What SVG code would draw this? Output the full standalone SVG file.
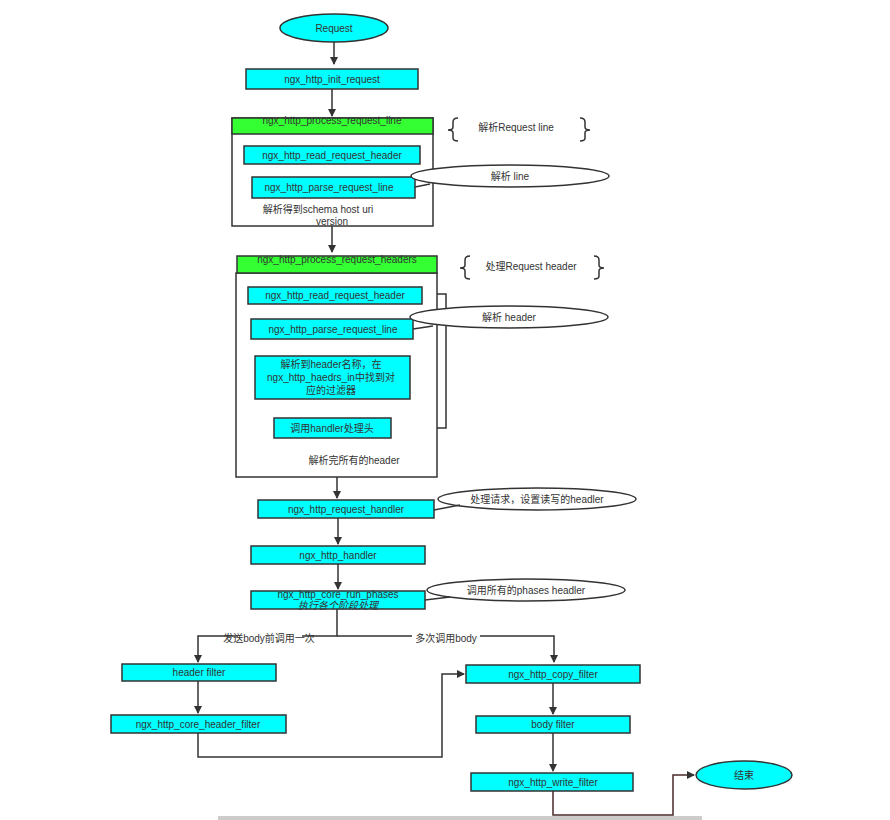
<svg xmlns="http://www.w3.org/2000/svg" width="890" height="820" viewBox="0 0 890 820">
<style>
text{font-family:"Liberation Sans","Noto Sans CJK SC",sans-serif;font-size:10px;fill:#333;text-anchor:middle}
.b{fill:#00ffff;stroke:#333;stroke-width:1.5}
.g{fill:#33ff33;stroke:#333;stroke-width:1.5}
.o{fill:#fff;stroke:#333;stroke-width:1.5}
.c{fill:none;stroke:#333;stroke-width:1.5}
</style>
<defs><marker id="a" markerWidth="8" markerHeight="8" refX="7" refY="4" orient="auto" markerUnits="userSpaceOnUse"><path d="M0,0L8,4L0,8z" fill="#333"/></marker></defs>
<rect x="0" y="0" width="890" height="820" fill="#fff"/>
<rect x="218" y="816" width="484" height="4" fill="#ccc"/>
<g id="connectors">
<path class="c" d="M334,42V64" marker-end="url(#a)"/>
<path class="c" d="M332,89V116" marker-end="url(#a)"/>
<path class="c" d="M332,164V176" marker-end="url(#a)"/>
<path class="c" d="M332,226V252" marker-end="url(#a)"/>
<path class="c" d="M334,304V317" marker-end="url(#a)"/>
<path class="c" d="M333,339V354" marker-end="url(#a)"/>
<path class="c" d="M332,399V416" marker-end="url(#a)"/>
<path class="c" d="M391,428H446V294H424" marker-end="url(#a)"/>
<path class="c" d="M337,477V498" marker-end="url(#a)"/>
<path class="c" d="M338,518L338,544" marker-end="url(#a)"/>
<path class="c" d="M338,564V589" marker-end="url(#a)"/>
<path class="c" d="M337,609V636H198V662" marker-end="url(#a)"/>
<path class="c" d="M337,636H554V662" marker-end="url(#a)"/>
<path class="c" d="M198,681V713" marker-end="url(#a)"/>
<path class="c" d="M198,733V757H442V674H464" marker-end="url(#a)"/>
<path class="c" d="M553,683V714" marker-end="url(#a)"/>
<path class="c" d="M553,733V771" marker-end="url(#a)"/>
<path d="M553,791V815H673V775H694" fill="none" stroke="#4a2a2a" stroke-width="1.5" marker-end="url(#a)"/>
<rect x="238" y="632" width="64" height="12" fill="#fff"/><text x="269" y="642">发送body前调用一次</text>
<rect x="412" y="632" width="68" height="12" fill="#fff"/><text x="446" y="642">多次调用body</text>
</g>
<g id="request"><ellipse class="b" cx="334" cy="28" rx="54" ry="14"/><text x="334" y="32">Request</text></g>
<g id="init"><rect class="b" x="246" y="69" width="172" height="20"/><text x="332" y="83">ngx_http_init_request</text></g>
<g id="prl">
<rect class="o" x="232" y="118" width="201" height="108"/>
<rect class="g" x="232" y="118" width="201" height="16"/><text x="332" y="124">ngx_http_process_request_line</text>
<text x="318" y="213">解析得到schema host uri</text><text x="332" y="225">version</text>
</g>
<g id="rrh1"><rect class="b" x="244" y="146" width="176" height="18"/><text x="332" y="159">ngx_http_read_request_header</text></g>
<g id="prl1"><rect class="b" x="252" y="177" width="163" height="21"/><text x="329" y="191">ngx_http_parse_request_line</text></g>
<g id="note1"><ellipse class="o" cx="510" cy="176" rx="99" ry="11"/><path class="c" d="M415,187L430,184"/><text x="510" y="180">解析 line</text></g>
<g id="brace1"><path class="c" d="M458,118q-5,0-5,4v5q0,3-5,3q5,0 5,3v5q0,3 5,3"/><path class="c" d="M580,118q5,0 5,4v5q0,3 5,3q-5,0-5,3v5q0,3-5,3"/><text x="516" y="131">解析Request line</text></g>
<g id="prh">
<rect class="o" x="236" y="273" width="201" height="204"/>
<rect class="g" x="237" y="256" width="200" height="17"/><text x="337" y="263">ngx_http_process_request_headers</text>
<text x="354" y="464">解析完所有的header</text>
</g>
<g id="rrh2"><rect class="b" x="248" y="287" width="174" height="17"/><text x="335" y="299">ngx_http_read_request_header</text></g>
<g id="prl2"><rect class="b" x="251" y="319" width="162" height="20"/><text x="333" y="333">ngx_http_parse_request_line</text></g>
<g id="note2"><ellipse class="o" cx="509" cy="317" rx="99" ry="11"/><path class="c" d="M413,329L433,326"/><text x="509" y="321">解析 header</text></g>
<g id="hdr"><rect class="b" x="255" y="356" width="155" height="43"/><text x="331" y="368">解析到header名称，在</text><text x="331" y="381">ngx_http_haedrs_in中找到对</text><text x="331" y="394">应的过滤器</text></g>
<g id="handler"><rect class="b" x="274" y="418" width="117" height="20"/><text x="332" y="432">调用handler处理头</text></g>
<g id="brace2"><path class="c" d="M470,256q-5,0-5,4v5q0,3-5,3q5,0 5,3v5q0,3 5,3"/><path class="c" d="M594,256q5,0 5,4v5q0,3 5,3q-5,0-5,3v5q0,3-5,3"/><text x="531" y="270">处理Request header</text></g>
<g id="reqh"><rect class="b" x="258" y="500" width="176" height="18"/><text x="346" y="513">ngx_http_request_handler</text></g>
<g id="note3"><ellipse class="o" cx="537" cy="499" rx="99" ry="11"/><path class="c" d="M434,510L460,505"/><text x="537" y="503">处理请求，设置读写的headler</text></g>
<g id="hh"><rect class="b" x="251" y="546" width="174" height="18"/><text x="338" y="559">ngx_http_handler</text></g>
<g id="phases"><rect class="b" x="251" y="591" width="174" height="18"/><text x="338" y="598">ngx_http_core_run_phases</text><text x="338" y="609" font-style="italic">执行各个阶段处理</text></g>
<g id="note4"><ellipse class="o" cx="526" cy="590" rx="99" ry="11"/><path class="c" d="M425,600L450,597"/><text x="526" y="594">调用所有的phases headler</text></g>
<g id="hf"><rect class="b" x="122" y="664" width="154" height="17"/><text x="199" y="676">header filter</text></g>
<g id="chf"><rect class="b" x="111" y="715" width="175" height="18"/><text x="198" y="728">ngx_http_core_header_filter</text></g>
<g id="cf"><rect class="b" x="466" y="665" width="174" height="18"/><text x="553" y="678">ngx_http_copy_filter</text></g>
<g id="bf"><rect class="b" x="476" y="716" width="154" height="17"/><text x="553" y="728">body filter</text></g>
<g id="wf"><rect class="b" x="471" y="773" width="162" height="18"/><text x="553" y="786">ngx_http_write_filter</text></g>
<g id="end"><ellipse class="b" cx="744" cy="775" rx="48" ry="14"/><text x="744" y="779">结束</text></g>
</svg>
